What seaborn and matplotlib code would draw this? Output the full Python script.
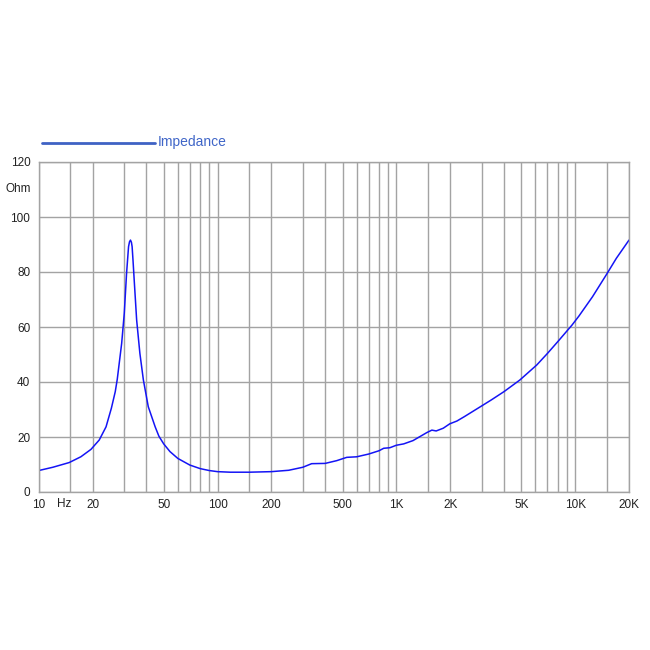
import matplotlib
matplotlib.use("Agg")
import matplotlib.pyplot as plt
from matplotlib.lines import Line2D
from matplotlib.ticker import NullFormatter
import matplotlib.transforms as mtransforms
import pandas as pd
import seaborn as sns

# impedance curve
freq = [10, 12, 14.8, 17.2, 19.6, 21.8, 23.8, 25.5, 26.8, 27.5, 29.1, 30.1,
        31.0, 31.4, 31.8, 32.2, 32.6, 33.0, 33.3, 33.7, 34.2, 35.3, 36.8,
        38.5, 41.0, 44.8, 47, 50, 54.2, 60, 70, 80, 90, 100, 118, 150, 200,
        250, 300, 336, 400, 464, 528, 600, 700, 800, 850, 920, 1000, 1100,
        1240, 1480, 1580, 1670, 1830, 1990, 2180, 2400, 3000, 3400, 4000,
        4900, 6100, 7000, 8000, 9600, 10500, 12500, 15000, 17000, 20000]
impedance = [7.8, 9.0, 10.7, 12.8, 15.5, 18.9, 23.7, 30.5, 36.5, 41.0, 54.0,
             65.0, 79.5, 84.4, 89.2, 91.0, 91.6, 90.8, 89.2, 84.0, 77.1, 62.5,
             50.4, 40.7, 31.0, 23.7, 20.3, 17.5, 14.7, 12.2, 9.8, 8.5, 7.8,
             7.4, 7.2, 7.2, 7.4, 7.9, 9.0, 10.3, 10.4, 11.4, 12.6, 12.8, 13.8,
             15.0, 15.9, 16.1, 17.0, 17.5, 18.7, 21.6, 22.5, 22.2, 23.2, 24.8,
             25.8, 27.4, 31.3, 33.5, 36.5, 40.7, 46.2, 50.4, 54.7, 60.7, 64.0,
             71.0, 79.2, 85.0, 91.6]

x_ticks = [10, 20, 50, 100, 200, 500, 1000, 2000, 5000, 10000, 20000]
x_labels = ["10", "20", "50", "100", "200", "500", "1K", "2K", "5K", "10K", "20K"]
x_grid = [15, 30, 40, 60, 70, 80, 90, 150, 300, 400, 600, 700, 800, 900,
          1500, 3000, 4000, 6000, 7000, 8000, 9000, 15000]
y_ticks = [0, 20, 40, 60, 80, 100, 120]

df = pd.DataFrame({"freq": freq, "impedance": impedance})

sns.set_style("white")
plt.rcParams["font.family"] = ["Liberation Sans", "DejaVu Sans"]

fig = plt.figure(figsize=(6.5, 6.5), dpi=100)
ax = fig.add_axes([38.7 / 650, 158 / 650, 590.3 / 650, 330 / 650])

grid_col = "#a3a3a3"
sns.lineplot(data=df, x="freq", y="impedance", ax=ax, color="#1414f5",
             linewidth=1.1, sort=False)

ax.set_xscale("log")
ax.set_xlim(10, 20000)
ax.set_ylim(0, 120)
ax.set_xticks(x_ticks)
ax.set_xticklabels(x_labels)
ax.set_xticks(x_grid, minor=True)
ax.xaxis.set_minor_formatter(NullFormatter())
ax.set_yticks(y_ticks)
ax.grid(True, which="both", axis="x", color=grid_col, linewidth=1)
ax.grid(True, which="major", axis="y", color=grid_col, linewidth=1)
ax.tick_params(axis="x", which="both", length=0, pad=5, labelsize=8.5,
               colors="#222222")
ax.tick_params(axis="y", length=4, width=1, color=grid_col, pad=2,
               labelsize=8.5, labelcolor="#222222")
for s in ax.spines.values():
    s.set_color(grid_col)
    s.set_linewidth(1)
ax.set_xlabel("")
ax.set_ylabel("")

# "Hz" sits in the tick label row
trans = mtransforms.blended_transform_factory(ax.transData, ax.transAxes)
ax.text(13.9, -0.0175, "Hz", transform=trans, ha="center", va="top",
        fontsize=8.5, color="#222222")
fig.text(18 / 650, 1 - 189 / 650, "Ohm", ha="center", va="center",
         fontsize=8.5, color="#222222")

# legend drawn above the plot
fig.add_artist(Line2D([42 / 650, 155 / 650], [1 - 143 / 650, 1 - 143 / 650],
                      color="#3f62c4", linewidth=2, transform=fig.transFigure))
fig.text(158 / 650, 1 - 142 / 650, "Impedance", ha="left", va="center",
         fontsize=10, color="#4066c8")

sns.despine(ax=ax, top=False, right=False)
fig.savefig("out.png", dpi=100)
